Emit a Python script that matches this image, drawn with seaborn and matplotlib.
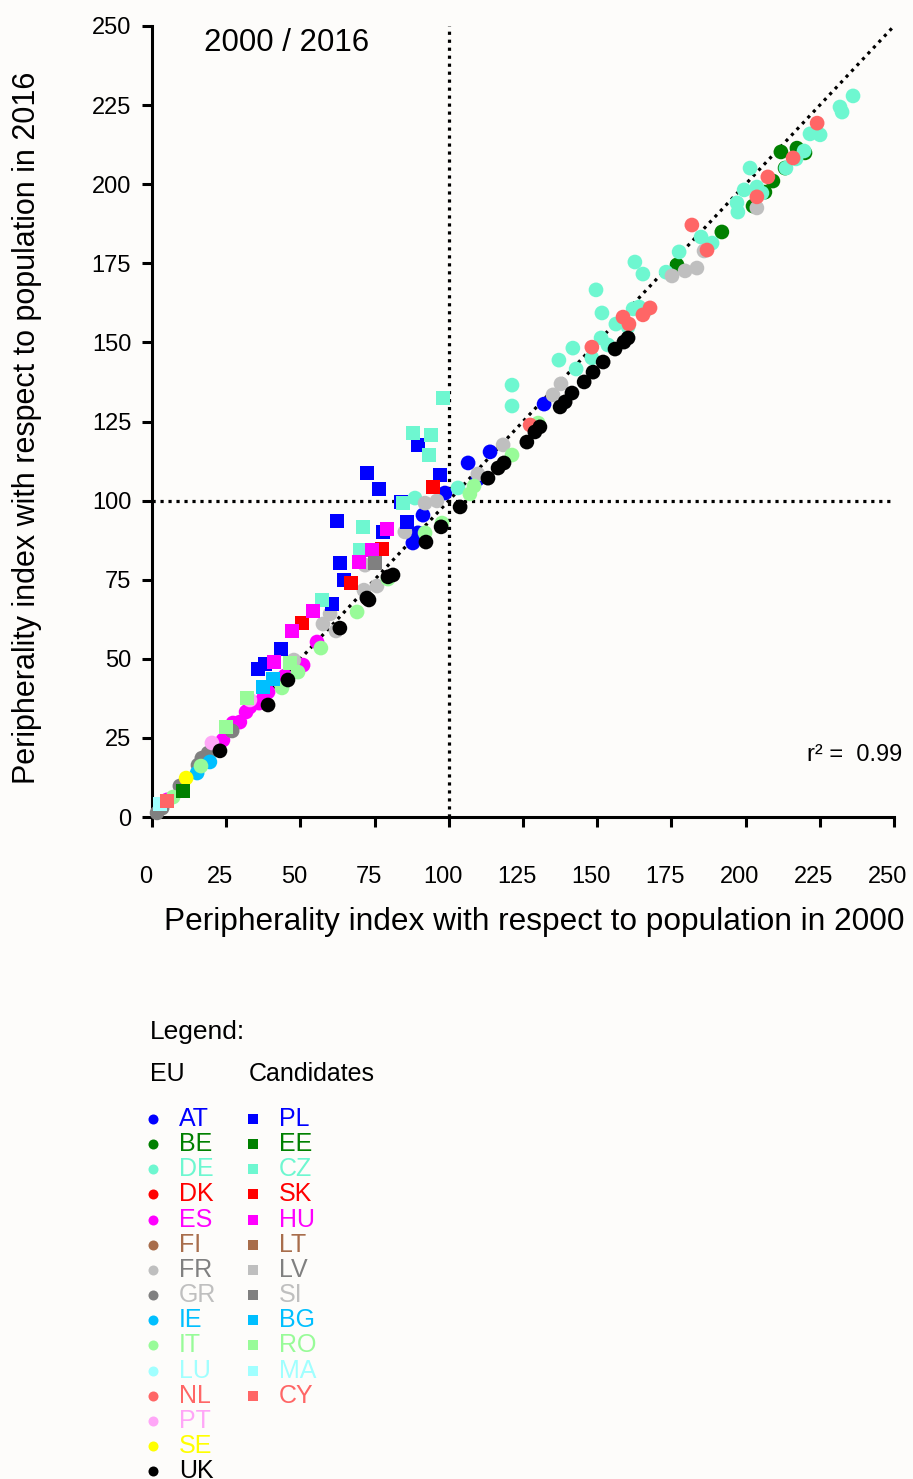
import numpy as np
import pandas as pd
import matplotlib
matplotlib.use('Agg')
import matplotlib.pyplot as plt
import seaborn as sns
from matplotlib.transforms import ScaledTranslation

# legend order and colours
eu_codes = ['AT', 'BE', 'DE', 'DK', 'ES', 'FI', 'FR', 'GR', 'IE', 'IT', 'LU', 'NL', 'PT', 'SE', 'UK']
cand_codes = ['PL', 'EE', 'CZ', 'SK', 'HU', 'LT', 'LV', 'SI', 'BG', 'RO', 'MA', 'CY']
colors = ['#0000FF', '#008000', '#6EF7D0', '#FF0000', '#FF00FF', '#A86D4B', '#BFBFBF', '#808080',
          '#00BFFF', '#98FB98', '#A0FFFF', '#FF6666', '#FFA6F7', '#FFFF00', '#000000']
# text colours in the legend (grey shades are swapped in the original)
text_colors = colors[:6] + ['#808080', '#BFBFBF'] + colors[8:]

# (index 2000, index 2016) per country
at = [(87.9, 86.6), (89.6, 89.8), (91.3, 95.4), (98.7, 102.4), (106.5, 111.9), (109.8, 106.8),
      (113.9, 115.4), (132.1, 130.5)]
be = [(176.9, 174.5), (192.0, 184.9), (202.5, 193.1), (206.5, 197.5), (209.2, 201.0), (213.3, 205.1),
      (211.9, 210.2), (217.3, 211.4), (220.0, 209.9)]
de = [(88.6, 100.8), (103.1, 104.0), (121.3, 136.5), (121.3, 129.9), (137.1, 144.4), (141.8, 148.2),
      (142.9, 141.6), (148.2, 145.1), (149.6, 166.6), (151.6, 159.3), (151.3, 151.4), (153.6, 149.2),
      (156.3, 155.8), (160.4, 154.9), (162.1, 160.6), (164.1, 161.2), (166.1, 159.9), (162.7, 175.4),
      (165.4, 171.6), (173.2, 172.2), (177.6, 178.6), (185.0, 183.3), (188.7, 181.4), (197.1, 194.1),
      (197.4, 191.2), (199.5, 198.2), (201.5, 205.1), (203.8, 199.1), (205.5, 197.2), (213.6, 205.1),
      (217.0, 208.0), (219.7, 210.5), (221.7, 215.9), (225.1, 215.6), (231.8, 224.4), (232.5, 222.8),
      (236.2, 227.9)]
es = [(5.1, 5.4), (23.9, 24.3), (27.3, 29.7), (29.6, 30.0), (31.7, 33.2), (33.0, 34.8), (36.1, 36.0),
      (37.7, 37.9), (39.1, 39.5), (44.8, 44.6), (50.9, 48.0), (55.6, 55.3)]
fr = [(47.8, 49.6), (57.6, 61.0), (60.0, 64.2), (62.0, 58.8), (71.4, 71.7), (71.8, 79.6), (75.8, 73.0),
      (85.2, 90.1), (92.0, 99.2), (96.0, 99.9), (109.8, 108.4), (118.3, 117.6), (135.1, 133.4),
      (137.8, 136.9), (175.2, 171.0), (179.6, 172.6), (183.6, 173.5), (186.0, 178.9), (203.8, 192.5)]
gr = [(1.7, 1.3), (3.4, 2.8), (9.4, 9.8), (15.5, 16.4), (16.8, 18.6), (18.9, 20.2), (27.0, 27.2)]
ie = [(15.2, 13.9), (19.5, 17.4)]
it = [(7.1, 6.3), (16.5, 16.1), (43.8, 40.8), (49.2, 45.8), (56.9, 53.4), (69.1, 64.8), (79.5, 75.2),
      (92.0, 89.8), (97.7, 92.9), (107.1, 102.1), (108.5, 104.6), (121.3, 114.4), (130.1, 124.5)]
nl = [(127.4, 123.9), (148.2, 148.5), (158.7, 158.0), (160.7, 155.8), (165.4, 158.7), (167.8, 160.9),
      (181.9, 187.1), (187.0, 179.2), (203.8, 196.0), (207.5, 202.3), (216.0, 208.3), (224.1, 219.3)]
pt = [(20.2, 23.4), (33.0, 37.0)]
se = [(11.5, 12.3)]
uk = [(22.9, 20.9), (39.1, 35.4), (45.8, 43.3), (63.3, 59.7), (72.4, 69.2), (73.1, 68.6), (79.5, 75.9),
      (81.2, 76.5), (92.3, 86.9), (97.4, 91.7), (103.8, 98.0), (113.2, 107.1), (116.6, 110.3),
      (118.6, 111.9), (126.3, 118.5), (129.0, 121.7), (130.7, 123.3), (137.5, 129.6), (139.2, 131.2),
      (141.5, 134.0), (145.6, 137.5), (148.6, 140.6), (152.0, 143.8), (156.0, 147.9), (159.0, 150.1),
      (160.4, 151.4)]
pl = [(35.7, 46.8), (38.1, 48.4), (43.5, 53.1), (60.6, 67.3), (63.3, 80.3), (64.7, 74.9), (62.3, 93.6),
      (72.4, 108.7), (76.5, 103.7), (77.8, 90.1), (83.9, 99.6), (85.9, 93.2), (89.6, 117.6), (97.0, 108.1)]
ee = [(10.4, 8.2)]
cz = [(57.3, 68.6), (70.1, 84.4), (71.1, 91.7), (84.6, 99.2), (87.9, 121.4), (94.0, 120.7),
      (93.3, 114.4), (98.0, 132.4)]
sk = [(50.5, 61.3), (67.0, 74.0), (77.5, 84.7), (94.7, 104.3)]
hu = [(41.1, 49.0), (47.2, 58.8), (54.2, 65.1), (69.7, 80.6), (74.1, 84.4), (79.2, 91.0)]
si = [(75.1, 80.3)]
bg = [(37.4, 41.1), (40.8, 43.6)]
ro = [(24.9, 28.4), (32.0, 37.6), (46.5, 48.7)]
ma = [(2.7, 4.1)]
cy = [(5.1, 5.1)]

ticks = [0, 25, 50, 75, 100, 125, 150, 175, 200, 225, 250]
r2_text = 'r² =  0.99'

series = {'AT': at, 'BE': be, 'DE': de, 'ES': es, 'FR': fr, 'GR': gr, 'IE': ie, 'IT': it, 'NL': nl,
          'PT': pt, 'SE': se, 'UK': uk, 'PL': pl, 'EE': ee, 'CZ': cz, 'SK': sk, 'HU': hu, 'SI': si,
          'BG': bg, 'RO': ro, 'MA': ma, 'CY': cy}
rows = []
for code, pts in series.items():
    group = 'EU' if code in eu_codes else 'Candidates'
    for x, y in pts:
        rows.append({'x': x, 'y': y, 'country': code, 'group': group})
df = pd.DataFrame(rows)

palette = {c: colors[i] for i, c in enumerate(eu_codes)}
palette.update({c: colors[i] for i, c in enumerate(cand_codes)})

sns.set_style('ticks')
plt.rcParams['font.family'] = ['Liberation Sans', 'DejaVu Sans']
plt.rcParams['text.color'] = 'black'
plt.rcParams['axes.labelcolor'] = 'black'
bg_col = '#FDFCFA'

W, H = 913, 1479
fig = plt.figure(figsize=(W / 100, H / 100), dpi=100, facecolor=bg_col)
ax = fig.add_axes([152 / W, 1 - 817 / H, 742 / W, 791 / H])
ax.set_facecolor(bg_col)

# reference lines
ax.plot([0, 250], [0, 250], color='black', lw=2.3, ls=(0, (1, 1.5)), zorder=1)
ax.axhline(100, color='black', lw=2.3, ls=(0, (1, 1.5)), zorder=1)
ax.axvline(100, color='black', lw=2.3, ls=(0, (1, 1.5)), zorder=1)

sns.scatterplot(data=df, x='x', y='y', hue='country', palette=palette, style='group',
                markers={'EU': 'o', 'Candidates': 's'}, s=112, linewidth=0, legend=False,
                ax=ax, clip_on=False, zorder=3)

ax.set_xlim(0, 250)
ax.set_ylim(0, 250)
ax.set_xticks(ticks)
ax.set_yticks(ticks)
ax.set_xticklabels([str(t) for t in ticks])
ax.set_yticklabels([str(t) for t in ticks])
ax.set_xlabel('Peripherality index with respect to population in 2000', fontsize=22.8)
ax.set_ylabel('Peripherality index with respect to population in 2016', fontsize=22)
sns.despine(ax=ax)
for sp in ['left', 'bottom']:
    ax.spines[sp].set_linewidth(2.2)
    ax.spines[sp].set_color('black')
ax.tick_params(direction='out', length=7, width=2.2, labelsize=17, colors='black')
ax.tick_params(axis='x', pad=28)
ax.tick_params(axis='y', pad=8)
shift = ScaledTranslation(-6 / 100, 0, fig.dpi_scale_trans)
for lab in ax.get_xticklabels():
    lab.set_transform(lab.get_transform() + shift)

ax.xaxis.set_label_coords(0.515, -0.114)
ax.yaxis.set_label_coords(-0.148, 0.492)

ax.text(0.070, 0.978, '2000 / 2016', transform=ax.transAxes, fontsize=22.5, va='center', ha='left')
ax.text(1.011, 0.078, r2_text, transform=ax.transAxes, fontsize=17, va='center', ha='right')

# legend drawn in pixel space below the plot
lax = fig.add_axes([0, 0, 1, 1])
lax.set_xlim(0, W)
lax.set_ylim(H, 0)
lax.axis('off')
lax.text(150, 1032, 'Legend:', fontsize=19, va='center', ha='left')
lax.text(150, 1074, 'EU', fontsize=18, va='center', ha='left')
lax.text(249, 1074, 'Candidates', fontsize=18, va='center', ha='left')
step = 25.15
for i, code in enumerate(eu_codes):
    yy = 1119 + i * step
    lax.scatter([153], [yy], s=52, marker='o', color=colors[i], linewidth=0, clip_on=False)
    lax.text(179, yy, code, fontsize=18, color=text_colors[i], va='center', ha='left')
for i, code in enumerate(cand_codes):
    yy = 1119 + i * step
    lax.scatter([253], [yy], s=58, marker='s', color=colors[i], linewidth=0, clip_on=False)
    lax.text(279, yy, code, fontsize=18, color=text_colors[i], va='center', ha='left')

fig.savefig('out.png', dpi=100, facecolor=bg_col)
